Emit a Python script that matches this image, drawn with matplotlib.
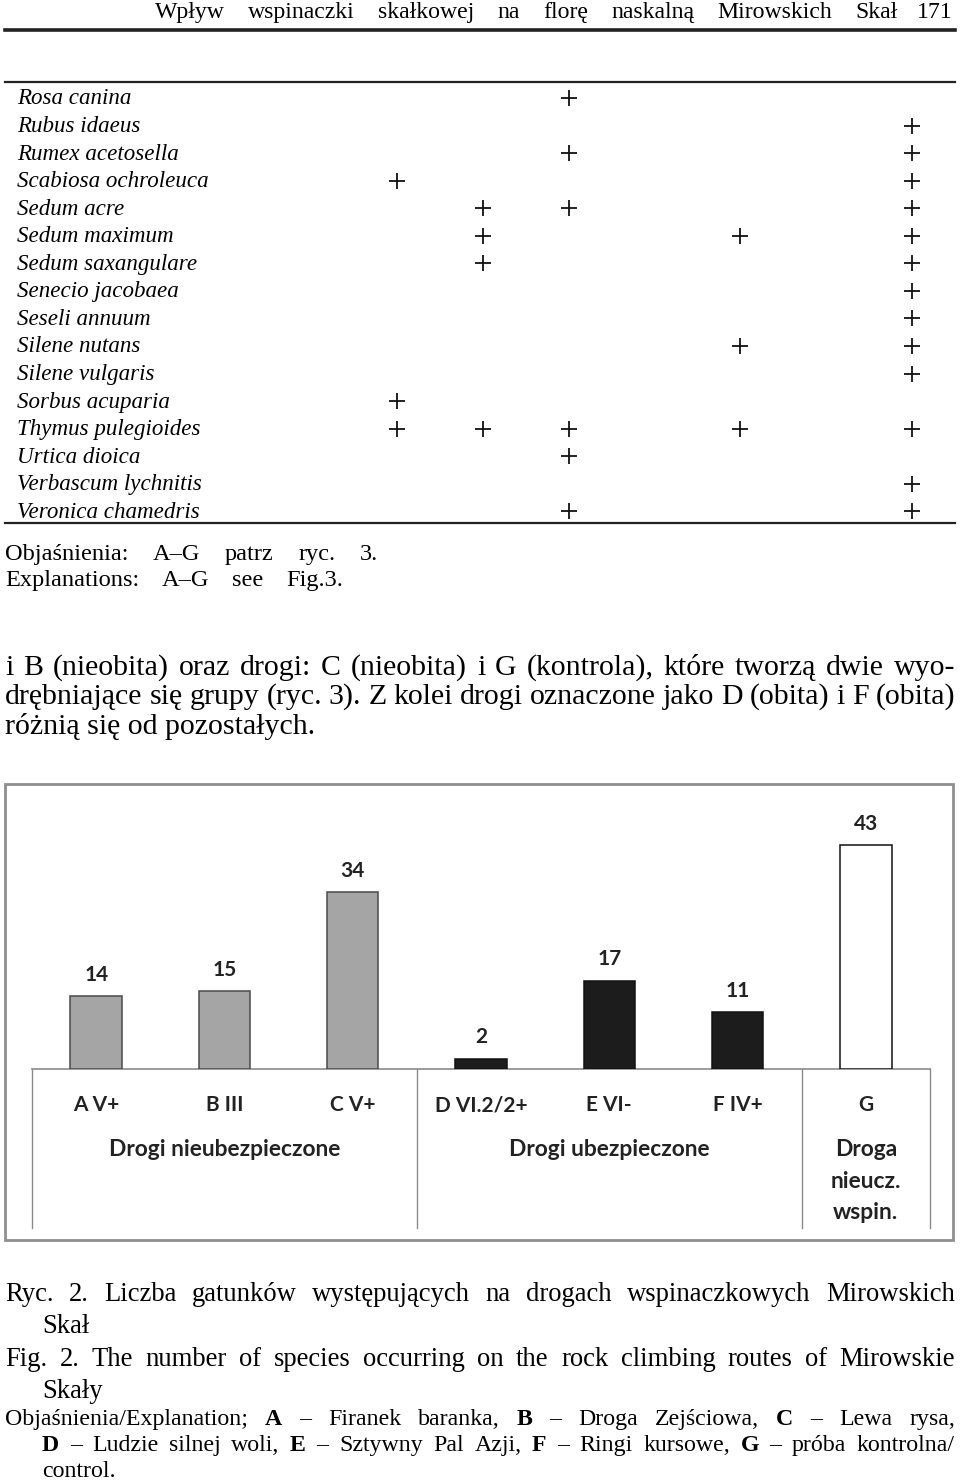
import matplotlib
matplotlib.use("Agg")
import matplotlib.pyplot as plt
import matplotlib.transforms as mtransforms
from matplotlib.patches import Rectangle

W, H = 960, 1481

# tabela: gatunki i trasy (A-G), na których występują
species = ["Rosa canina", "Rubus idaeus", "Rumex acetosella", "Scabiosa ochroleuca",
           "Sedum acre", "Sedum maximum", "Sedum saxangulare", "Senecio jacobaea",
           "Seseli annuum", "Silene nutans", "Silene vulgaris", "Sorbus acuparia",
           "Thymus pulegioides", "Urtica dioica", "Verbascum lychnitis", "Veronica chamedris"]
presence = ["C", "G", "CG", "AG", "BCG", "BEG", "BG", "G",
            "G", "EG", "G", "A", "ABCEG", "C", "G", "CG"]
columns = list("ABCDEFG")

# wykres: liczba gatunków na drogach
routes = ["A V+", "B III", "C V+", "D VI.2/2+", "E VI-", "F IV+", "G"]
n_species = [14, 15, 34, 2, 17, 11, 43]
route_group = [0, 0, 0, 1, 1, 1, 2]
groups = ["Drogi nieubezpieczone", "Drogi ubezpieczone", "Droga\nnieucz.\nwspin."]
group_colors = ["#a5a5a5", "#1c1c1c", "#ffffff"]
group_edges = ["#4a4a4a", "#111111", "#111111"]

SERIF = ["Liberation Serif", "DejaVu Serif"]
SANS = ["Lato", "DejaVu Sans"]

fig = plt.figure(figsize=(W / 100, H / 100), dpi=100)
page = fig.add_axes([0, 0, 1, 1])
page.set_xlim(0, W)
page.set_ylim(H, 0)
page.axis("off")
renderer = fig.canvas.get_renderer()


def fit_size(s, width, family, **kw):
    # rozmiar czcionki, przy którym napis ma zadaną szerokość
    t = page.text(0, 0, s, fontsize=10, family=family, **kw)
    w = t.get_window_extent(renderer).width
    t.remove()
    return 10 * width / w


def justify(line, x0, x1, y, size=None, shrink=0.97, style="normal", bold_letters=False):
    # rozkłada słowa równo między x0 i x1 (tekst wyjustowany)
    if size is None:
        size = fit_size(line, x1 - x0, SERIF, style=style) * shrink
    words = line.split(" ")
    texts = []
    for w in words:
        wt = "bold" if (bold_letters and w in columns) else "normal"
        texts.append(page.text(0, y, w, fontsize=size, family=SERIF, style=style,
                               fontweight=wt, va="baseline", ha="left"))
    widths = [t.get_window_extent(renderer).width for t in texts]
    gap = (x1 - x0 - sum(widths)) / max(len(words) - 1, 1)
    x = x0
    for t, wd in zip(texts, widths):
        t.set_x(x)
        x += wd + gap
    return size


# nagłówek
hs = justify("Wpływ wspinaczki skałkowej na florę naskalną Mirowskich Skał", 155, 898, 18,
             shrink=0.84)
page.text(953, 18, "171", fontsize=hs, family=SERIF, ha="right", va="baseline")
page.plot([5, 955], [30, 30], color="#222222", lw=2.6)

# tabela
page.plot([5, 955], [82, 82], color="#222222", lw=1.6)
page.plot([5, 955], [523, 523], color="#222222", lw=1.6)
col_x0, col_dx = 397, 85.8
row_y0, row_dy = 98, 27.55
ts = fit_size("Thymus pulegioides", 190, SERIF, style="italic") * 0.97
xs, ys = [], []
for i, (sp, pr) in enumerate(zip(species, presence)):
    yc = row_y0 + i * row_dy
    page.text(17, yc + 6.5, sp, fontsize=ts, family=SERIF, style="italic", va="baseline")
    for c in pr:
        xs.append(col_x0 + columns.index(c) * col_dx)
        ys.append(yc)
page.scatter(xs, ys, marker="+", s=120, linewidths=1.3, color="#111111")

es = justify("Objaśnienia: A–G patrz ryc. 3.", 5, 378, 560, shrink=0.8)
justify("Explanations: A–G see Fig.3.", 5, 343, 586, size=es)

# akapit
ps = justify("i B (nieobita) oraz drogi: C (nieobita) i G (kontrola), które tworzą dwie wyo-",
             5, 955, 675)
justify("drębniające się grupy (ryc. 3). Z kolei drogi oznaczone jako D (obita) i F (obita)",
        5, 955, 704, size=ps)
page.text(5, 734, "różnią się od pozostałych.", fontsize=ps, family=SERIF, va="baseline")

# ramka wykresu
page.add_patch(Rectangle((5, 784), 948, 456, fill=False, edgecolor="#8f8f8f", lw=2))

# wykres słupkowy
base_y, top_y = 1069, 800
left_x, right_x = 32, 930
ax = fig.add_axes([left_x / W, 1 - base_y / H, (right_x - left_x) / W, (base_y - top_y) / H])
ax.set_xlim(-0.5, len(routes) - 0.5)
ax.set_ylim(0, (base_y - top_y) / 5.2)
ax.axis("off")
x = list(range(len(routes)))
ax.bar(x, n_species, width=0.4,
       color=[group_colors[g] for g in route_group],
       edgecolor=[group_edges[g] for g in route_group], linewidth=1.1)
for xi, v in zip(x, n_species):
    ax.annotate(str(v), (xi, v), xytext=(0, 11), textcoords="offset points",
                ha="center", va="baseline", fontsize=15, fontweight="bold",
                family=SANS, color="#222222")

# dolna część: podpisy tras i grup
line_c = "#8a8a8a"
page.plot([left_x, right_x], [base_y, base_y], color=line_c, lw=1.2)
blend = mtransforms.blended_transform_factory(ax.transData, page.transData)
bounds = [-0.5, 2.5, 5.5, 6.5]
for b in bounds:
    page.plot([b, b], [base_y, 1228], color=line_c, lw=1.0, transform=blend)
for xi, r in zip(x, routes):
    page.text(xi, 1111, r, transform=blend, ha="center", va="baseline", fontsize=15,
              fontweight="bold", family=SANS, color="#222222")
gs = fit_size(groups[0], 232, SANS, fontweight="bold")
for gi, g in enumerate(groups):
    gx = (bounds[gi] + bounds[gi + 1]) / 2
    page.text(gx, 1139, g, transform=blend, ha="center", va="top", fontsize=gs,
              fontweight="bold", family=SANS, color="#222222", linespacing=1.62)

# podpis ryciny
cs = justify("Ryc. 2. Liczba gatunków występujących na drogach wspinaczkowych Mirowskich",
             5, 955, 1301, shrink=0.93)
page.text(42, 1333, "Skał", fontsize=cs, family=SERIF, va="baseline")
justify("Fig. 2. The number of species occurring on the rock climbing routes of Mirowskie",
        5, 955, 1366, size=cs)
page.text(42, 1398, "Skały", fontsize=cs, family=SERIF, va="baseline")
xs2 = justify("Objaśnienia/Explanation; A – Firanek baranka, B – Droga Zejściowa, C – Lewa rysa,",
              5, 955, 1425, shrink=0.86, bold_letters=True)
justify("D – Ludzie silnej woli, E – Sztywny Pal Azji, F – Ringi kursowe, G – próba kontrolna/",
        42, 955, 1451, size=xs2, bold_letters=True)
page.text(42, 1477, "control.", fontsize=xs2, family=SERIF, va="baseline")

fig.savefig("out.png", dpi=100)
